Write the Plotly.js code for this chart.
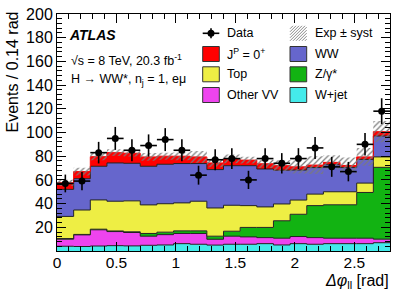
<!DOCTYPE html>
<html><head><meta charset="utf-8">
<script src="https://cdn.plot.ly/plotly-3.0.1.min.js"></script>
<style>html,body{margin:0;padding:0;background:#fff}</style>
</head><body>
<div id="chart" style="width:407px;height:292px"></div>
<script>
// ---------------- data ----------------
const phiEdges = [0,0.14,0.28,0.42,0.56,0.70,0.84,0.98,1.12,1.26,1.40,1.54,1.68,1.82,1.96,2.10,2.24,2.38,2.52,2.66,2.80];
const phiCenters = [0.07,0.21,0.35,0.49,0.63,0.77,0.91,1.05,1.19,1.33,1.47,1.61,1.75,1.89,2.03,2.17,2.31,2.45,2.59,2.73];
const wJet    = [4.0,3.8,4.2,4.5,4.3,4.8,5.1,6.2,5.7,5.0,5.7,5.7,6.2,5.1,6.2,5.7,6.2,6.2,6.2,7.0];
const otherVV = [6.0,9.8,13.7,11.9,11.3,7.7,8.7,8.6,9.1,4.9,6.8,6.2,5.1,5.7,6.0,5.6,4.6,4.6,4.6,3.0];
const zGamma  = [0.5,0.4,0.5,0.5,0.6,2.3,2.1,2.2,2.2,2.6,4.2,8.0,8.6,14.7,18.8,27.0,28.2,28.2,38.6,60.6];
const topQ    = [18.7,20.6,24.7,25.1,26.1,24.1,24.0,23.6,25.0,23.8,21.9,18.4,17.3,14.2,12.0,9.7,11.0,11.0,7.9,8.8];
const wwBkg   = [22.8,26.4,28.4,32.3,31.7,32.6,33.3,33.2,31.8,32.4,33.4,33.7,32.0,28.5,25.3,22.4,22.8,20.4,20.0,17.6];
const higgs0p = [5.5,6.0,8.1,8.7,8.5,7.9,6.8,6.2,5.6,5.6,5.7,4.7,4.4,3.8,2.7,2.1,2.0,1.8,2.1,3.7];
const systUnc = [2.7,3.2,3.0,2.8,2.8,3.2,3.0,3.4,5.0,3.7,3.7,2.8,3.5,4.5,5.6,7.5,6.0,6.7,7.5,9.0];
const dataCounts = [57,59,83,95,85,89,94,85,64,77,78,60,78,74,78,87,71,67,90,118];
const dataErr    = [7.5,7.7,9.1,9.7,9.2,9.4,9.7,9.2,8.0,8.8,8.8,7.7,8.8,8.6,8.8,9.3,8.4,8.2,9.5,10.9];
const xTickVals = [0,0.5,1,1.5,2,2.5];
const xTickText = ['0','0.5','1','1.5','2','2.5'];
const yTickVals = [20,40,60,80,100,120,140,160,180,200];

// ---------------- layout helpers ----------------
const W = 407, H = 292;
const M = {l:57, r:17, t:14, b:41};
const pw = W - M.l - M.r, ph = H - M.t - M.b;
const X = px => (px - M.l) / pw;
const Y = py => (H - M.b - py) / ph;
const FONT = 'Liberation Sans, Arial, Helvetica, sans-serif';

const stepY = a => a.concat([a[a.length-1]]);

const comps = [
  {name:'W+jet',    vals:wJet,    color:'#44eaea', line:'#222'},
  {name:'Other VV', vals:otherVV, color:'#ee44ee', line:'#222'},
  {name:'Z/γ*',     vals:zGamma,  color:'#12b312', line:'#222'},
  {name:'Top',      vals:topQ,    color:'#eeee44', line:'#222'},
  {name:'WW',       vals:wwBkg,   color:'#6666cc', line:'#222'},
  {name:'JP=0+',    vals:higgs0p, color:'#ff0000', line:'#ff0000'}
];

const traces = [];
let cum = new Array(phiCenters.length).fill(0);
comps.forEach((c, k) => {
  cum = cum.map((v, i) => v + c.vals[i]);
  traces.push({
    type:'scatter', mode:'lines', x:phiEdges, y:stepY(cum),
    line:{shape:'hv', color:c.line, width:1},
    fill: k === 0 ? 'tozeroy' : 'tonexty', fillcolor:c.color,
    hoverinfo:'skip', showlegend:false
  });
});
const total = cum.slice();
const lower = total.map((v,i) => v - systUnc[i]);
const upper = total.map((v,i) => v + systUnc[i]);
traces.push({type:'scatter', mode:'lines', x:phiEdges, y:stepY(lower),
  line:{shape:'hv', width:0}, hoverinfo:'skip', showlegend:false});
traces.push({type:'scatter', mode:'lines', x:phiEdges, y:stepY(upper),
  line:{shape:'hv', width:0}, fill:'tonexty', fillcolor:'rgba(0,0,0,0)',
  fillpattern:{shape:'/', fgcolor:'#7a7a7a', bgcolor:'rgba(0,0,0,0)', size:4, solidity:0.3},
  hoverinfo:'skip', showlegend:false});
traces.push({type:'scatter', mode:'markers', x:phiCenters, y:dataCounts,
  marker:{color:'black', size:7},
  error_y:{type:'data', array:dataErr, color:'black', thickness:1.6, width:0},
  error_x:{type:'constant', value:0.07, color:'black', thickness:1.6, width:0},
  hoverinfo:'skip', showlegend:false});

// ---------------- legend (manual) ----------------
const shapes = [], annotations = [];
const rows = [33.3, 54, 74.3, 95];
const c1 = [202.7, 219.3], c2 = [290, 306.7];
const boxH = 15;
function box(col, row, color){
  shapes.push({type:'rect', xref:'paper', yref:'paper',
    x0:X(col[0]), x1:X(col[1]), y0:Y(row+boxH/2), y1:Y(row-boxH/2),
    fillcolor:color, line:{color:'#333', width:1}});
}
function label(colx, row, txt){
  annotations.push({xref:'paper', yref:'paper', x:X(colx), y:Y(row), xanchor:'left', yanchor:'middle',
    text:txt, showarrow:false, font:{family:FONT, size:12.5, color:'black'}});
}
// Data icon
shapes.push({type:'line', xref:'paper', yref:'paper', x0:X(c1[0]), x1:X(c1[1]), y0:Y(rows[0]), y1:Y(rows[0]), line:{color:'black', width:1.6}});
shapes.push({type:'line', xref:'paper', yref:'paper', x0:X(211), x1:X(211), y0:Y(rows[0]-5), y1:Y(rows[0]+5), line:{color:'black', width:1.6}});
shapes.push({type:'circle', xref:'paper', yref:'paper', x0:X(207.5), x1:X(214.5), y0:Y(rows[0]+3.5), y1:Y(rows[0]-3.5), fillcolor:'black', line:{color:'black', width:0}});
box(c1, rows[1], '#ff0000');
box(c1, rows[2], '#eeee44');
box(c1, rows[3], '#ee44ee');
box(c2, rows[1], '#6666cc');
box(c2, rows[2], '#12b312');
box(c2, rows[3], '#44eaea');
// hatch icon
(function(){
  const x0=c2[0], x1=c2[1], yt=rows[0]-boxH/2, yb=rows[0]+boxH/2;
  let path='';
  for(let c=-boxH; c<(x1-x0); c+=3){
    let xa = x0 + Math.max(c,0), ya = yb - Math.max(-c,0);
    let xb = x0 + c + boxH, yb2 = yt;
    if(xb > x1){ yb2 = yt + (xb - x1); xb = x1; }
    if(xa >= x1) continue;
    path += 'M'+X(xa)+','+Y(ya)+' L'+X(xb)+','+Y(yb2)+' ';
  }
  shapes.push({type:'path', xref:'paper', yref:'paper', path:path, line:{color:'#8a8a8a', width:1}});
})();
label(225, rows[0], 'Data');
label(225, rows[1], 'J<sup>P</sup> = 0<sup>+</sup>');
label(225, rows[2], 'Top');
label(225, rows[3], 'Other VV');
label(313.3, rows[0], 'Exp ± syst');
label(313.3, rows[1], 'WW');
label(313.3, rows[2], 'Z/γ*');
label(313.3, rows[3], 'W+jet');

// ATLAS texts
annotations.push({xref:'paper', yref:'paper', x:X(67), y:Y(35), xanchor:'left', yanchor:'middle', showarrow:false,
  text:'<b><i>ATLAS</i></b>', font:{family:FONT, size:14, color:'black'}});
annotations.push({xref:'paper', yref:'paper', x:X(69), y:Y(60), xanchor:'left', yanchor:'middle', showarrow:false,
  text:'√s = 8 TeV, 20.3 fb<sup>-1</sup>', font:{family:FONT, size:12.5, color:'black'}});
annotations.push({xref:'paper', yref:'paper', x:X(69), y:Y(80), xanchor:'left', yanchor:'middle', showarrow:false,
  text:'H → WW*, n<sub>j</sub> = 1, eμ', font:{family:FONT, size:12.5, color:'black'}});
// axis titles
annotations.push({xref:'paper', yref:'paper', x:X(12), y:Y(10), xanchor:'center', yanchor:'top', showarrow:false,
  textangle:-90, text:'Events / 0.14 rad', font:{family:FONT, size:16, color:'black'}});
annotations.push({xref:'paper', yref:'paper', x:X(391), y:Y(281), xanchor:'right', yanchor:'middle', showarrow:false,
  text:'<i>Δφ</i><sub>ll</sub> [rad]', font:{family:FONT, size:16, color:'black'}});

const layout = {
  width:W, height:H, margin:M, paper_bgcolor:'white', plot_bgcolor:'white',
  showlegend:false, font:{family:FONT, color:'black'},
  xaxis:{range:[0,2.8], tickmode:'array', tickvals:xTickVals, ticktext:xTickText,
    ticks:'inside', ticklen:9, tickwidth:1, tickcolor:'black', mirror:'allticks',
    showline:true, linecolor:'black', linewidth:1, showgrid:false, zeroline:false,
    ticklabelstandoff:-3,
    tickfont:{family:FONT, size:15.5, color:'black'},
    minor:{tickmode:'linear', tick0:0, dtick:0.1, ticks:'inside', ticklen:5, tickcolor:'black', showgrid:false}},
  yaxis:{range:[0,200], tickmode:'array', tickvals:yTickVals,
    ticks:'inside', ticklen:9, tickwidth:1, tickcolor:'black', mirror:'allticks',
    showline:true, linecolor:'black', linewidth:1, showgrid:false, zeroline:false,
    tickfont:{family:FONT, size:16, color:'black'},
    minor:{tickmode:'linear', tick0:0, dtick:4, ticks:'inside', ticklen:5, tickcolor:'black', showgrid:false}},
  shapes:shapes, annotations:annotations
};
Plotly.newPlot('chart', traces, layout, {staticPlot:true, displayModeBar:false});
</script>
</body></html>
